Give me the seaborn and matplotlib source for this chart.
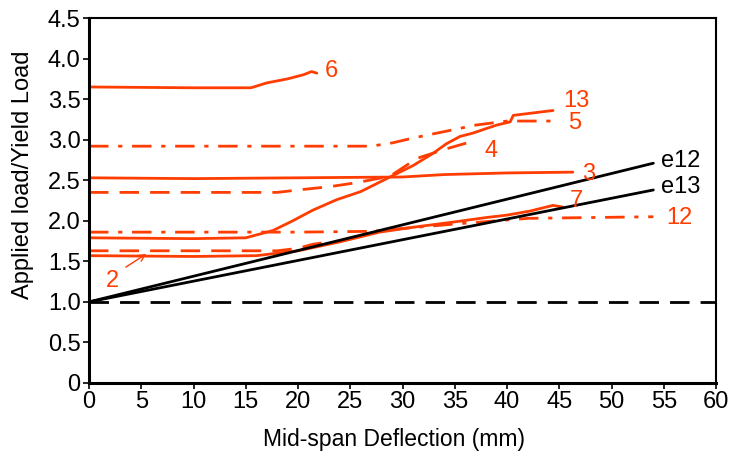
import matplotlib
matplotlib.use("Agg")
import matplotlib.pyplot as plt
import seaborn as sns
import pandas as pd

sns.set_theme(style="white")
plt.rcParams['font.family'] = ['Liberation Sans', 'DejaVu Sans']

RED = "#FF3D00"

# series data (deflection mm, load ratio)
s6_x = [0, 10, 15.5, 17, 19, 20.5, 21.3, 21.8]
s6_y = [3.65, 3.64, 3.64, 3.70, 3.75, 3.80, 3.84, 3.82]
s5_x = [0, 27, 29, 31, 34, 37, 40, 44.5]
s5_y = [2.92, 2.92, 2.96, 3.02, 3.10, 3.18, 3.23, 3.23]
s13_x = [0, 10, 15, 17.6, 19.5, 21.4, 23.7, 26, 28.8, 31, 32.9, 34.2, 35.5, 36.7, 39, 40.3, 40.6, 44.4]
s13_y = [1.79, 1.78, 1.79, 1.88, 2.0, 2.13, 2.26, 2.36, 2.54, 2.68, 2.83, 2.95, 3.04, 3.08, 3.18, 3.22, 3.30, 3.36]
s4_x = [0, 10, 18, 20, 23, 25.6, 28.8, 31.4, 34, 36.7]
s4_y = [2.35, 2.35, 2.35, 2.38, 2.42, 2.47, 2.55, 2.77, 2.88, 2.98]
s3_x = [0, 10, 20, 30, 34, 40, 46.3]
s3_y = [2.53, 2.52, 2.53, 2.54, 2.57, 2.59, 2.60]
s12_x = [0, 20, 27, 29.5, 35, 42, 54]
s12_y = [1.86, 1.86, 1.87, 1.90, 1.96, 2.03, 2.05]
s7_x = [0, 10, 16, 20, 24, 27.8, 31, 35.2, 38, 40, 42.2, 44.4, 45.3]
s7_y = [1.57, 1.56, 1.57, 1.63, 1.74, 1.86, 1.92, 1.99, 2.04, 2.07, 2.12, 2.19, 2.17]
s2_x = [0, 10, 18, 20, 21.4, 23]
s2_y = [1.63, 1.63, 1.63, 1.66, 1.71, 1.74]
e12_x = [0, 54]
e12_y = [1.0, 2.71]
e13_x = [0, 54]
e13_y = [1.0, 2.38]
yld_x = [0, 60]
yld_y = [1.0, 1.0]

x_ticks = list(range(0, 61, 5))
y_ticks = [0, 0.5, 1.0, 1.5, 2.0, 2.5, 3.0, 3.5, 4.0, 4.5]
y_tick_labels = ["0", "0.5", "1.0", "1.5", "2.0", "2.5", "3.0", "3.5", "4.0", "4.5"]

fig = plt.figure(figsize=(7.32, 4.51), dpi=100)
ax = fig.add_axes([0.1216, 0.1508, 0.8566, 0.8092])

DASHDOT = (0, (7, 3.5, 1.5, 3.5))
DASHED = (0, (7, 4))

series = [
    (s6_x, s6_y, RED, '-', "6"),
    (s5_x, s5_y, RED, DASHDOT, "5"),
    (s13_x, s13_y, RED, '-', "13"),
    (s4_x, s4_y, RED, DASHED, "4"),
    (s3_x, s3_y, RED, '-', "3"),
    (s12_x, s12_y, RED, DASHDOT, "12"),
    (s7_x, s7_y, RED, '-', "7"),
    (s2_x, s2_y, RED, DASHED, "2"),
    (e12_x, e12_y, 'black', '-', "e12"),
    (e13_x, e13_y, 'black', '-', "e13"),
    (yld_x, yld_y, 'black', DASHED, "yield"),
]
for xs, ys, c, ls, name in series:
    df = pd.DataFrame({"x": xs, "y": ys})
    sns.lineplot(data=df, x="x", y="y", ax=ax, color=c, linewidth=2.0,
                 sort=False, estimator=None, linestyle=ls)

fs = 17
ax.text(22.6, 3.85, "6", color=RED, fontsize=fs, va="center", ha="left")
ax.text(45.4, 3.48, "13", color=RED, fontsize=fs, va="center", ha="left")
ax.text(45.8, 3.20, "5", color=RED, fontsize=fs, va="center", ha="left")
ax.text(37.8, 2.86, "4", color=RED, fontsize=fs, va="center", ha="left")
ax.text(47.2, 2.58, "3", color=RED, fontsize=fs, va="center", ha="left")
ax.text(46.0, 2.25, "7", color=RED, fontsize=fs, va="center", ha="left")
ax.text(55.2, 2.03, "12", color=RED, fontsize=fs, va="center", ha="left")
ax.text(54.7, 2.74, "e12", color='black', fontsize=fs, va="center", ha="left")
ax.text(54.7, 2.42, "e13", color='black', fontsize=fs, va="center", ha="left")
ax.text(1.6, 1.26, "2", color=RED, fontsize=fs, va="center", ha="left")
ax.annotate("", xy=(5.7, 1.61), xytext=(3.3, 1.41),
            arrowprops=dict(arrowstyle="->", color=RED, lw=1.0))

ax.set_xlim(0, 60)
ax.set_ylim(0, 4.5)
ax.set_xticks(x_ticks)
ax.set_xticklabels([str(t) for t in x_ticks])
ax.set_yticks(y_ticks)
ax.set_yticklabels(y_tick_labels)
ax.tick_params(axis='both', which='major', labelsize=17, length=4, width=1.2,
               direction='out', colors='black', labelcolor='black',
               bottom=True, left=True, pad=2)
ax.set_xlabel("Mid-span Deflection (mm)", fontsize=16.5, color='black')
ax.set_ylabel("Applied load/Yield Load", fontsize=17, color='black')
ax.xaxis.set_label_coords(0.486, -0.123)
ax.yaxis.set_label_coords(-0.087, 0.57)
for sp in ax.spines.values():
    sp.set_visible(True)
    sp.set_color('black')
    sp.set_linewidth(1.5)
ax.spines['left'].set_linewidth(2.2)
ax.spines['bottom'].set_linewidth(2.2)

fig.savefig("out.png", dpi=100)
